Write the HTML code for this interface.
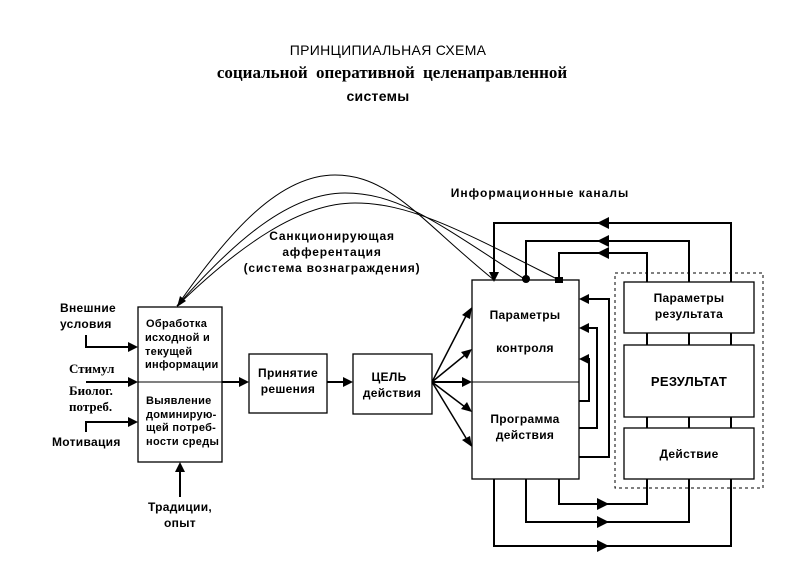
<!DOCTYPE html>
<html><head><meta charset="utf-8"><style>
body{margin:0;background:#fff}
svg{display:block}
text{font-family:"Liberation Sans",sans-serif;font-weight:bold;fill:#000;letter-spacing:0.3px}
.s{font-family:"Liberation Serif",serif;letter-spacing:0}
</style></head><body>
<svg width="795" height="563" viewBox="0 0 795 563" xmlns="http://www.w3.org/2000/svg">
<text x="388" y="55" text-anchor="middle" font-size="14" style="font-weight:normal">ПРИНЦИПИАЛЬНАЯ СХЕМА</text>
<text x="392" y="78" text-anchor="middle" font-size="17" class="s" word-spacing="4">социальной  оперативной  целенаправленной</text>
<text x="378" y="101" text-anchor="middle" font-size="14">системы</text>
<text x="540" y="197" text-anchor="middle" font-size="12" style="letter-spacing:1px">Информационные  каналы</text>
<text x="332" y="240" text-anchor="middle" font-size="12" style="letter-spacing:0.8px">Санкционирующая</text>
<text x="332" y="256" text-anchor="middle" font-size="12" style="letter-spacing:0.8px">афферентация</text>
<text x="332" y="272" text-anchor="middle" font-size="12" style="letter-spacing:0.8px">(система вознаграждения)</text>

<g fill="none" stroke="#000" stroke-width="1">
<path d="M494,280 C420,220 390,175 335,175 C280,175 230,230 177,306"/>
<path d="M526,280 C440,225 400,193 345,193 C290,193 235,240 177,306"/>
<path d="M559,280 C460,230 410,203 355,203 C300,203 240,245 177,306"/>
</g>
<path d="M177,307 L180,296 L186,301z"/>

<g fill="#fff" stroke="#000" stroke-width="1.3">
<rect x="138" y="307" width="84" height="155"/>
<rect x="249" y="354" width="78" height="59"/>
<rect x="353" y="354" width="79" height="60"/>
<rect x="472" y="280" width="107" height="199"/>
<rect x="624" y="282" width="130" height="51"/>
<rect x="624" y="345" width="130" height="72"/>
<rect x="624" y="428" width="130" height="51"/>
</g>
<line x1="138" y1="382" x2="222" y2="382" stroke="#000"/>
<line x1="472" y1="382" x2="579" y2="382" stroke="#000"/>
<rect x="615" y="273" width="148" height="215" fill="none" stroke="#000" stroke-dasharray="3,3"/>

<g stroke="#000" stroke-width="2" fill="none">
<line x1="647" y1="333" x2="647" y2="345"/><line x1="689" y1="333" x2="689" y2="345"/><line x1="731" y1="333" x2="731" y2="345"/>
<line x1="647" y1="417" x2="647" y2="428"/><line x1="689" y1="417" x2="689" y2="428"/><line x1="731" y1="417" x2="731" y2="428"/>
<polyline points="731,282 731,223 494,223 494,272"/>
<polyline points="689,282 689,241 526,241 526,276"/>
<polyline points="647,282 647,253 559,253 559,278"/>
<polyline points="559,479 559,504 647,504 647,479"/>
<polyline points="526,479 526,522 689,522 689,479"/>
<polyline points="494,479 494,546 731,546 731,479"/>
<polyline points="579,457 609,457 609,299 588,299"/>
<polyline points="579,428 597,428 597,328 588,328"/>
<polyline points="579,401 589,401 589,359 588,359"/>
<line x1="222" y1="382" x2="240" y2="382"/>
<line x1="327" y1="382" x2="344" y2="382"/>
<line x1="432" y1="382" x2="462" y2="382"/>
<polyline points="86,335 86,347 128,347"/>
<line x1="86" y1="382" x2="128" y2="382"/>
<polyline points="86,432 86,422 128,422"/>
<line x1="180" y1="497" x2="180" y2="472"/>
</g>
<g stroke="#000" stroke-width="1.5">
<line x1="432" y1="382" x2="466" y2="316"/>
<line x1="432" y1="382" x2="465" y2="355"/>
<line x1="432" y1="382" x2="465" y2="407"/>
<line x1="432" y1="382" x2="466" y2="438"/>
</g>
<g>
<path d="M472,307 l-2,12 l-8,-4z"/>
<path d="M472,349 l-5,10 l-6,-7z"/>
<path d="M472,412 l-11,-3 l6,-7z"/>
<path d="M472,447 l-10,-7 l8,-4z"/>
<path d="M472,382 l-10,-5 v10z"/>
<path d="M249,382 l-10,-5 v10z"/>
<path d="M353,382 l-10,-5 v10z"/>
<path d="M138,347 l-10,-5 v10z"/>
<path d="M138,382 l-10,-5 v10z"/>
<path d="M138,422 l-10,-5 v10z"/>
<path d="M180,462 l-5,10 h10z"/>
<path d="M579,299 l10,-5 v10z"/>
<path d="M579,328 l10,-5 v10z"/>
<path d="M579,359 l10,-5 v10z"/>
<path d="M597,223 l12,-6 v12z"/>
<path d="M597,241 l12,-6 v12z"/>
<path d="M597,253 l12,-6 v12z"/>
<path d="M609,504 l-12,-6 v12z"/>
<path d="M609,522 l-12,-6 v12z"/>
<path d="M609,546 l-12,-6 v12z"/>
<path d="M494,282 l-5,-10 h10z"/>
<circle cx="526" cy="279" r="4"/>
<rect x="555" y="277" width="8" height="6"/>
</g>

<g font-size="11">
<text x="146" y="327">Обработка</text>
<text x="145" y="341">исходной и</text>
<text x="145" y="355">текущей</text>
<text x="145" y="368">информации</text>
<text x="146" y="404">Выявление</text>
<text x="146" y="418">доминирую-</text>
<text x="146" y="431">щей потреб-</text>
<text x="146" y="445">ности среды</text>
</g>
<g font-size="12">
<text x="60" y="312">Внешние</text>
<text x="60" y="328">условия</text>
<text x="52" y="446">Мотивация</text>
<text x="180" y="511" text-anchor="middle">Традиции,</text>
<text x="180" y="527" text-anchor="middle">опыт</text>
<text x="288" y="377" text-anchor="middle">Принятие</text>
<text x="288" y="393" text-anchor="middle">решения</text>
<text x="389" y="381" text-anchor="middle">ЦЕЛЬ</text>
<text x="392" y="397" text-anchor="middle">действия</text>
<text x="525" y="319" text-anchor="middle">Параметры</text>
<text x="525" y="352" text-anchor="middle">контроля</text>
<text x="525" y="423" text-anchor="middle">Программа</text>
<text x="525" y="439" text-anchor="middle">действия</text>
<text x="689" y="302" text-anchor="middle">Параметры</text>
<text x="689" y="318" text-anchor="middle">результата</text>
<text x="689" y="386" text-anchor="middle" font-size="13">РЕЗУЛЬТАТ</text>
<text x="689" y="458" text-anchor="middle">Действие</text>
</g>
<g font-size="13">
<text x="69" y="373" class="s">Стимул</text>
<text x="69" y="395" class="s">Биолог.</text>
<text x="69" y="411" class="s">потреб.</text>
</g>
</svg>
</body></html>
